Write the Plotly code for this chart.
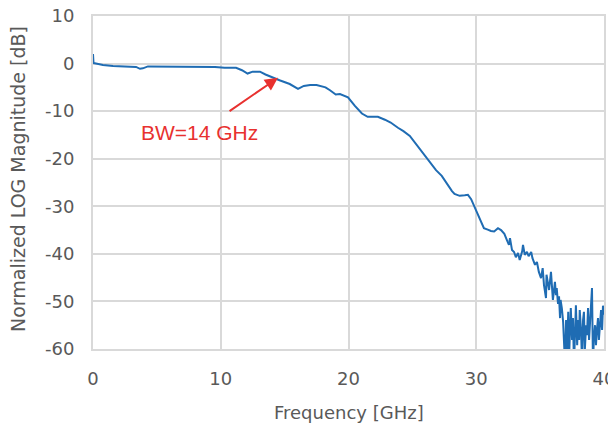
import plotly.graph_objects as go

# Frequency [GHz] and normalized magnitude [dB]
freq_ghz = [
    0.0, 0.04, 0.23, 0.78, 1.57, 2.9, 3.37, 3.68, 3.9, 4.3, 6.0, 8.4, 9.55, 10.3, 11.2,
    11.66, 12.1, 12.5, 13.07, 13.5, 14.0, 14.6, 15.4, 16.05, 16.5, 17.0, 17.5, 18.2,
    18.55, 19.0, 19.33, 19.96, 20.5, 21.05, 21.5, 22.3, 22.85, 23.3, 23.87, 24.3, 24.8,
    25.44, 26.0, 26.4, 26.85, 27.3, 27.7, 28.1, 28.3, 28.7, 29.1, 29.35, 29.6, 29.9,
    30.3, 30.6, 30.9, 31.15, 31.4, 31.7, 31.94, 32.2, 32.4, 32.56, 32.64, 32.8, 32.96,
    33.1, 33.27, 33.4, 33.6, 33.66, 33.8, 33.97, 34.1, 34.3, 34.4, 34.6, 34.75, 34.9,
    35.07, 35.2, 35.3, 35.46, 35.5, 35.7, 35.85, 35.93, 36.0, 36.16, 36.24, 36.3, 36.4,
    36.48, 36.56, 36.6, 36.7, 36.8, 36.87, 36.95, 37.03, 37.1, 37.2, 37.26, 37.34, 37.4,
    37.5, 37.57, 37.65, 37.73, 37.8, 37.9, 37.97, 38.05, 38.1, 38.2, 38.28, 38.36, 38.43,
    38.5, 38.6, 38.67, 38.75, 38.83, 38.9, 38.98, 39.06, 39.14, 39.2, 39.3, 39.37, 39.45,
    39.53, 39.6, 39.7, 39.77, 39.85, 39.92, 40.0,
]
magnitude_db = [
    2.0, 0.1, 0.0, -0.3, -0.5, -0.6, -0.7, -1.1, -1.0, -0.6, -0.6, -0.6, -0.7, -0.9, -0.9,
    -1.4, -2.1, -1.7, -1.7, -2.3, -2.9, -3.5, -4.3, -5.3, -4.7, -4.5, -4.5, -5.0,
    -5.6, -6.5, -6.4, -7.1, -8.9, -10.5, -11.2, -11.2, -11.8, -12.4, -13.5, -14.2, -15.2,
    -17.5, -19.4, -20.7, -22.4, -23.6, -25.3, -26.8, -27.4, -27.8, -27.7, -27.6, -28.5, -30.4,
    -32.9, -34.6, -34.9, -35.2, -35.3, -34.6, -35.0, -35.8, -37.1, -38.1, -36.7, -39.2, -39.6,
    -40.7, -39.8, -41.3, -39.4, -38.1, -40.2, -39.6, -40.5, -39.6, -40.9, -42.3, -41.7, -43.8,
    -45.1, -43.0, -46.5, -49.3, -44.4, -47.6, -43.8, -46.5, -49.7, -45.9, -48.7, -47.2, -50.5,
    -48.9, -53.5, -49.7, -51.4, -54.3, -57.1, -63.4, -53.9, -62.3, -52.2, -62.3, -56.0, -51.4,
    -58.1, -53.5, -63.4, -56.0, -50.8, -59.2, -53.9, -58.1, -51.8, -56.0, -62.7, -53.9, -52.2,
    -60.2, -55.0, -57.1, -51.4, -58.1, -53.9, -48.7, -47.2, -63.4, -58.1, -55.0, -59.2, -56.0,
    -53.5, -58.1, -54.3, -51.8, -56.0, -50.9, -52.8,
]

x_ticks = [0, 10, 20, 30, 40]
y_ticks = [10, 0, -10, -20, -30, -40, -50, -60]

x_title = "Frequency [GHz]"
y_title = "Normalized LOG Magnitude [dB]"
annotation_text = "BW=14 GHz"
bw_point = (14.48, -3.0)
arrow_tail = (10.57, -10.2)
label_pos = (8.3, -14.4)

grey_text = "#595959"
grid_col = "#d9d9d9"
red = "#e8312f"
font_family = "DejaVu Sans, sans-serif"

fig = go.Figure()
fig.add_trace(go.Scatter(
    x=freq_ghz, y=magnitude_db, mode="lines",
    line=dict(color="#1f6cb3", width=2),
    showlegend=False,
))

fig.add_annotation(
    x=bw_point[0], y=bw_point[1], ax=arrow_tail[0], ay=arrow_tail[1],
    xref="x", yref="y", axref="x", ayref="y",
    text="", showarrow=True, arrowhead=2, arrowsize=1.3, arrowwidth=2,
    arrowcolor=red,
)
fig.add_annotation(
    x=label_pos[0], y=label_pos[1], xref="x", yref="y",
    text=annotation_text, showarrow=False,
    font=dict(family="Liberation Sans, Arial, sans-serif", size=21, color=red),
)
# axis titles
fig.add_annotation(
    x=0.5, y=-0.192, xref="paper", yref="paper", xanchor="center", yanchor="middle",
    text=x_title, showarrow=False, font=dict(family=font_family, size=18, color=grey_text),
)
fig.add_annotation(
    x=-0.147, y=0.51, xref="paper", yref="paper", xanchor="center", yanchor="middle",
    text=y_title, textangle=-90, showarrow=False,
    font=dict(family=font_family, size=19, color=grey_text),
)

fig.update_layout(
    width=608, height=419,
    margin=dict(l=85, r=12, t=8, b=78, autoexpand=False),
    paper_bgcolor="white", plot_bgcolor="white",
    font=dict(family=font_family, color=grey_text, size=18),
    xaxis=dict(
        range=[0, 40], tickvals=x_ticks, ticktext=[str(v) for v in x_ticks],
        showgrid=True, gridcolor=grid_col, gridwidth=2,
        showline=True, linecolor=grid_col, linewidth=2, mirror=True,
        zeroline=False, ticks="", ticklabelstandoff=12, automargin=False,
        ticklabeloverflow="allow",
        tickfont=dict(family=font_family, size=18, color=grey_text),
    ),
    yaxis=dict(
        range=[-60, 10], tickvals=y_ticks, ticktext=[str(v) for v in y_ticks],
        showgrid=True, gridcolor=grid_col, gridwidth=2,
        showline=True, linecolor=grid_col, linewidth=2, mirror=True,
        zeroline=False, ticks="", ticklabelstandoff=13, automargin=False,
        ticklabeloverflow="allow",
        tickfont=dict(family=font_family, size=18, color=grey_text),
    ),
)

fig.write_html("out.html")
